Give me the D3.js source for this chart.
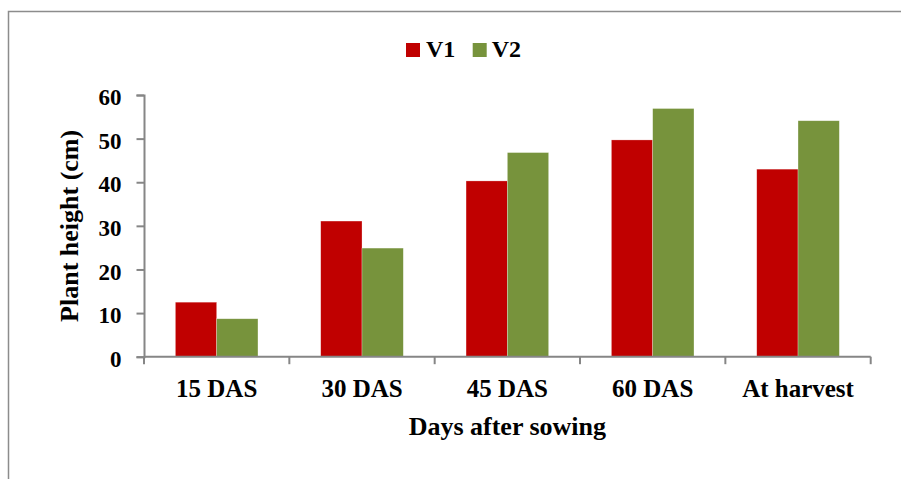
<!DOCTYPE html>
<html>
<head>
<meta charset="utf-8">
<script src="https://cdn.jsdelivr.net/npm/d3@7"></script>
<style>
  html, body { margin: 0; padding: 0; background: #fff; }
</style>
</head>
<body>
<svg id="chart" width="901" height="479"></svg>
<script>
// Plant height by growth stage for two varieties
const categories = ["15 DAS", "30 DAS", "45 DAS", "60 DAS", "At harvest"];
const seriesNames = ["V1", "V2"];
const v1 = [12.5, 31.1, 40.3, 49.7, 43.0];
const v2 = [8.7, 24.9, 46.8, 56.9, 54.1];
const yTicks = [0, 10, 20, 30, 40, 50, 60];
const colors = ["#C00000", "#77933C"];

const FONT = "'Liberation Serif'";
const styleText = (sel, size) => sel
  .attr("font-family", "Liberation Serif")
  .style("font-family", FONT)
  .style("font-weight", "bold")
  .style("font-size", size + "px")
  .attr("fill", "#000");

const seriesValues = [v1, v2];
const rows = categories.map((c, i) => ({
  category: c,
  values: seriesNames.map((s, j) => ({ series: s, value: seriesValues[j][i] }))
}));

const svg = d3.select("#chart");

// outer frame (runs past the right and bottom edges)
svg.append("rect")
  .attr("x", 8.5).attr("y", 11.5)
  .attr("width", 1000).attr("height", 600)
  .attr("fill", "none")
  .attr("stroke", "#8c8c8c")
  .attr("stroke-width", 1.5);

const plot = { left: 144, right: 870.7, top: 95, bottom: 356.7 };

const x0 = d3.scaleBand()
  .domain(categories)
  .range([plot.left, plot.right])
  .paddingInner(0).paddingOuter(0);

const x1 = d3.scaleBand()
  .domain(seriesNames)
  .range([0, x0.bandwidth()])
  .paddingInner(0).paddingOuter(0.76);

const y = d3.scaleLinear()
  .domain([0, 60])
  .range([plot.bottom, plot.top]);

const color = d3.scaleOrdinal().domain(seriesNames).range(colors);

// bars
const groups = svg.append("g").selectAll("g")
  .data(rows)
  .join("g")
  .attr("transform", d => `translate(${x0(d.category)},0)`);

groups.selectAll("rect")
  .data(d => d.values)
  .join("rect")
  .attr("x", d => x1(d.series))
  .attr("width", x1.bandwidth())
  .attr("y", d => y(d.value))
  .attr("height", d => y(0) - y(d.value))
  .attr("fill", d => color(d.series))
  .attr("stroke", "rgba(255,255,255,0.45)")
  .attr("stroke-width", 0.6);

// y axis
const yAxis = svg.append("g")
  .attr("transform", `translate(${plot.left},0)`)
  .call(d3.axisLeft(y).tickValues(yTicks).tickSize(7.5).tickPadding(15))
  .attr("font-family", "Liberation Serif");
yAxis.select(".domain").attr("stroke", "#868686").attr("stroke-width", 2);
yAxis.selectAll(".tick line").attr("stroke", "#868686").attr("stroke-width", 2);
styleText(yAxis.selectAll(".tick text"), 23).attr("dy", "0.42em");

// x axis
const xTickPositions = categories.map(c => x0(c)).concat([plot.right]);
const xAxisG = svg.append("g");
xAxisG.append("line")
  .attr("x1", plot.left).attr("x2", plot.right)
  .attr("y1", y(0)).attr("y2", y(0))
  .attr("stroke", "#868686").attr("stroke-width", 2);
xAxisG.selectAll("line.tk")
  .data(xTickPositions)
  .join("line")
  .attr("class", "tk")
  .attr("x1", d => d).attr("x2", d => d)
  .attr("y1", y(0)).attr("y2", y(0) + 7.5)
  .attr("stroke", "#868686").attr("stroke-width", 2);
styleText(xAxisG.selectAll("text")
  .data(categories)
  .join("text")
  .attr("x", d => x0(d) + x0.bandwidth() / 2)
  .attr("y", 396.7)
  .attr("text-anchor", "middle")
  .text(d => d), 25);

// axis titles
styleText(svg.append("text")
  .attr("x", (plot.left + plot.right) / 2)
  .attr("y", 435)
  .attr("text-anchor", "middle")
  .text("Days after sowing"), 26);

styleText(svg.append("text")
  .attr("transform", `translate(77.5,${(plot.top + plot.bottom) / 2}) rotate(-90)`)
  .attr("text-anchor", "middle")
  .text("Plant height (cm)"), 26);

// legend
const legendItems = [
  { name: "V1", sx: 406, tx: 426 },
  { name: "V2", sx: 472.7, tx: 491.7 }
];
const legend = svg.append("g");
legend.selectAll("rect")
  .data(legendItems)
  .join("rect")
  .attr("x", d => d.sx).attr("y", 43)
  .attr("width", 14).attr("height", 14)
  .attr("fill", d => color(d.name));
styleText(legend.selectAll("text")
  .data(legendItems)
  .join("text")
  .attr("x", d => d.tx).attr("y", 57.3)
  .text(d => d.name), 24);
</script>
</body>
</html>
